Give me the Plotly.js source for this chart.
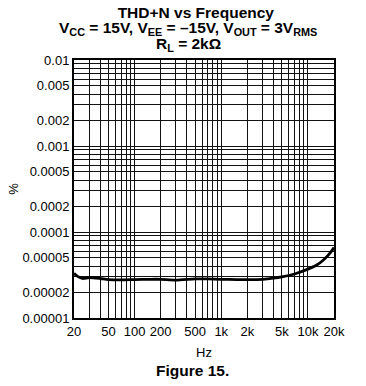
<!DOCTYPE html>
<html>
<head>
<meta charset="utf-8">
<script src="https://cdn.plot.ly/plotly-3.0.1.min.js"></script>
<style>
html,body{margin:0;padding:0;background:#fff;}
#chart{width:366px;height:386px;}
</style>
</head>
<body>
<div id="chart"></div>
<script>
// Data
const freqHz = [20, 22, 25, 30, 40, 50, 70, 100, 150, 200, 300, 500, 700, 1000, 1500, 2000, 3000, 4000, 5000, 7000, 10000, 12500, 15000, 17500, 20000];
const thdPct = [3.3e-5, 3.05e-5, 2.88e-5, 2.95e-5, 2.88e-5, 2.8e-5, 2.78e-5, 2.8e-5, 2.82e-5, 2.82e-5, 2.76e-5, 2.85e-5, 2.85e-5, 2.82e-5, 2.8e-5, 2.8e-5, 2.82e-5, 2.9e-5, 3.0e-5, 3.25e-5, 3.7e-5, 4.1e-5, 4.7e-5, 5.5e-5, 6.6e-5];

const xTickVals = [20, 50, 100, 200, 500, 1000, 2000, 5000, 10000, 20000];
const xTickText = ['20', '50', '100', '200', '500', '1k', '2k', '5k', '10k', '20k'];
const yTickVals = [0.01, 0.005, 0.002, 0.001, 0.0005, 0.0002, 0.0001, 0.00005, 0.00002, 0.00001];
const yTickText = ['0.01', '0.005', '0.002', '0.001', '0.0005', '0.0002', '0.0001', '0.00005', '0.00002', '0.00001'];

const font = 'Liberation Sans, Arial, sans-serif';

const trace = {
  x: freqHz, y: thdPct, type: 'scatter', mode: 'lines',
  line: {color: '#000', width: 2.8, shape: 'spline', smoothing: 0.6},
  hoverinfo: 'skip'
};

const gridStyle = {showgrid: true, gridcolor: '#111', gridwidth: 1};

const layout = {
  width: 366, height: 386,
  margin: {l: 74, r: 32, t: 60, b: 68},
  paper_bgcolor: '#fff', plot_bgcolor: '#fff',
  showlegend: false,
  font: {family: font, color: '#000', size: 13},
  title: {
    text: '<b>THD+N vs Frequency</b>',
    font: {family: font, size: 15.5, color: '#000'},
    x: 0.535, xanchor: 'center', xref: 'container',
    y: 0.968, yanchor: 'middle', yref: 'container'
  },
  xaxis: Object.assign({
    type: 'log', range: [Math.log10(20), Math.log10(20000)],
    tickmode: 'array', tickvals: xTickVals, ticktext: xTickText,
    minor: Object.assign({dtick: 'D1', ticks: ''}, gridStyle),
    showline: true, linecolor: '#000', linewidth: 2, mirror: true,
    ticks: '', zeroline: false,
    tickfont: {family: font, size: 13, color: '#000'},
    title: {text: 'Hz', font: {family: font, size: 13, color: '#000'}, standoff: 10}
  }, gridStyle),
  yaxis: Object.assign({
    type: 'log', range: [-5, -2],
    tickmode: 'array', tickvals: yTickVals, ticktext: yTickText,
    minor: Object.assign({dtick: 'D1', ticks: ''}, gridStyle),
    showline: true, linecolor: '#000', linewidth: 2, mirror: true,
    ticks: '', zeroline: false,
    tickfont: {family: font, size: 13, color: '#000'},
    title: {text: '%', font: {family: font, size: 13, color: '#000'}, standoff: 1}
  }, gridStyle),
  annotations: [
    {text: '<b>V<sub>CC</sub> = 15V, V<sub>EE</sub> = –15V, V<sub>OUT</sub> = 3V<sub>RMS</sub></b>',
     xref: 'paper', yref: 'paper', x: 0.44, y: 1.0, xanchor: 'center', yanchor: 'middle',
     yshift: 32, showarrow: false, font: {family: font, size: 15.5, color: '#000'}},
    {text: '<b>R<sub>L</sub> = 2kΩ</b>',
     xref: 'paper', yref: 'paper', x: 0.44, y: 1.0, xanchor: 'center', yanchor: 'middle',
     yshift: 16, showarrow: false, font: {family: font, size: 15.5, color: '#000'}},
    {text: '<b>Figure 15.</b>',
     xref: 'paper', yref: 'paper', x: 0.455, y: 0, xanchor: 'center', yanchor: 'middle',
     yshift: -52, showarrow: false, font: {family: font, size: 15.5, color: '#000'}}
  ]
};

Plotly.newPlot('chart', [trace], layout, {staticPlot: true, displayModeBar: false});
</script>
</body>
</html>
